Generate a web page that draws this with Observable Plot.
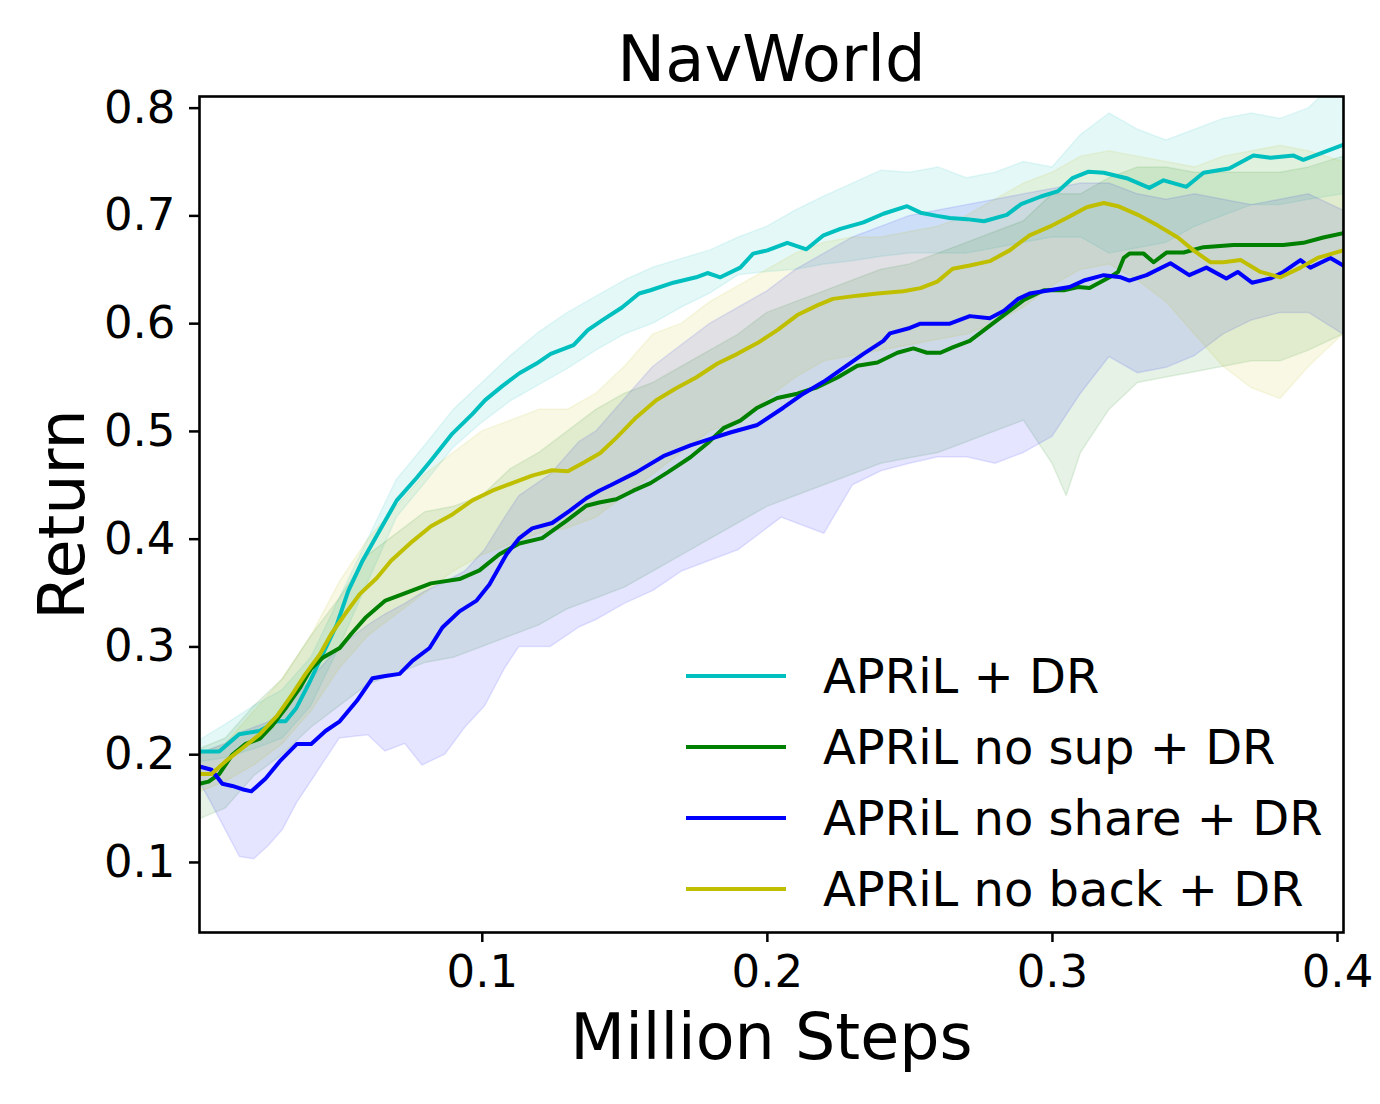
<!DOCTYPE html>
<html><head><meta charset="utf-8">
<script src="https://cdn.jsdelivr.net/npm/d3@7"></script>
<script src="https://cdn.jsdelivr.net/npm/@observablehq/plot@0.6"></script>
<style>
body{margin:0;background:#fff;}
#wrap{position:relative;width:1380px;height:1104px;font-family:"DejaVu Sans",sans-serif;}
#legend{position:absolute;left:686px;top:640px;}
.row{display:flex;align-items:center;height:71px;}
.sw{width:100px;height:4px;margin-right:37px;}
.lab{font-size:48px;line-height:1;color:#000;white-space:nowrap;}
</style></head><body><div id="wrap"></div>
<script>
const title = "NavWorld";
const xLabel = "Million Steps";
const yLabel = "Return";
const seriesNames = ["APRiL + DR", "APRiL no sup + DR", "APRiL no share + DR", "APRiL no back + DR"];
const seriesColors = ["#00bfbf", "#008000", "#0000ff", "#bfbf00"];
const xTicks = [0.1, 0.2, 0.3, 0.4];
const yTicks = [0.1, 0.2, 0.3, 0.4, 0.5, 0.6, 0.7, 0.8];

// mean curves
const cyanX = [0.0008,0.0077,0.0147,0.0218,0.028,0.031,0.0347,0.039,0.044,0.049,0.053,0.058,0.064,0.070,0.077,0.082,0.0895,0.0965,0.101,0.107,0.113,0.119,0.124,0.132,0.137,0.142,0.149,0.155,0.159,0.167,0.175,0.179,0.1835,0.1905,0.195,0.200,0.207,0.2137,0.2197,0.2256,0.2337,0.2407,0.249,0.2537,0.2595,0.264,0.270,0.276,0.284,0.289,0.296,0.302,0.307,0.3127,0.318,0.326,0.334,0.339,0.347,0.353,0.362,0.3705,0.3765,0.3846,0.388,0.395,0.402];
const cyanY = [0.203,0.203,0.219,0.222,0.231,0.231,0.243,0.265,0.293,0.321,0.352,0.380,0.408,0.436,0.457,0.473,0.498,0.516,0.529,0.542,0.554,0.563,0.572,0.580,0.594,0.603,0.615,0.628,0.631,0.638,0.643,0.647,0.643,0.652,0.665,0.668,0.675,0.669,0.682,0.688,0.694,0.702,0.709,0.703,0.700,0.698,0.697,0.695,0.701,0.711,0.718,0.723,0.735,0.741,0.740,0.735,0.726,0.733,0.727,0.740,0.744,0.756,0.754,0.756,0.752,0.759,0.766];

const greenX = [0.0008,0.004,0.0077,0.0123,0.017,0.022,0.026,0.031,0.036,0.040,0.044,0.050,0.054,0.059,0.066,0.073,0.082,0.092,0.099,0.106,0.113,0.121,0.1295,0.1365,0.141,0.147,0.153,0.159,0.165,0.173,0.179,0.1846,0.1905,0.1965,0.2035,0.2105,0.2175,0.2246,0.2316,0.2386,0.2456,0.2512,0.256,0.2607,0.265,0.271,0.276,0.282,0.290,0.297,0.304,0.309,0.313,0.320,0.323,0.325,0.327,0.332,0.3355,0.340,0.346,0.353,0.3635,0.373,0.381,0.388,0.395,0.402];
const greenY = [0.173,0.175,0.182,0.200,0.210,0.215,0.226,0.243,0.262,0.280,0.290,0.299,0.312,0.327,0.343,0.350,0.359,0.363,0.371,0.386,0.396,0.401,0.417,0.431,0.434,0.437,0.445,0.452,0.462,0.476,0.489,0.503,0.510,0.522,0.531,0.535,0.541,0.550,0.561,0.564,0.573,0.577,0.573,0.573,0.578,0.584,0.594,0.606,0.622,0.631,0.631,0.634,0.633,0.643,0.648,0.661,0.665,0.665,0.657,0.666,0.666,0.671,0.673,0.673,0.673,0.675,0.680,0.684];

const blueX = [0.0008,0.005,0.0088,0.0123,0.0158,0.019,0.024,0.029,0.035,0.040,0.045,0.050,0.056,0.0615,0.066,0.071,0.0755,0.0815,0.086,0.092,0.098,0.1025,0.1085,0.113,0.1175,0.1245,0.1305,0.1365,0.141,0.145,0.154,0.1635,0.173,0.180,0.187,0.1965,0.2056,0.2126,0.2197,0.2267,0.2337,0.2407,0.243,0.250,0.2537,0.264,0.271,0.278,0.283,0.288,0.292,0.299,0.306,0.311,0.318,0.324,0.327,0.333,0.3414,0.348,0.354,0.361,0.365,0.370,0.3765,0.381,0.387,0.3905,0.3975,0.402];
const blueY = [0.189,0.186,0.173,0.171,0.168,0.166,0.178,0.194,0.210,0.210,0.222,0.231,0.250,0.271,0.273,0.275,0.287,0.299,0.318,0.333,0.343,0.358,0.386,0.401,0.410,0.415,0.426,0.438,0.445,0.450,0.462,0.477,0.487,0.493,0.499,0.506,0.522,0.535,0.546,0.559,0.572,0.584,0.591,0.596,0.600,0.600,0.607,0.605,0.612,0.623,0.628,0.631,0.634,0.640,0.645,0.643,0.640,0.645,0.656,0.645,0.652,0.642,0.648,0.638,0.642,0.648,0.659,0.652,0.661,0.654];

const yellowX = [0.0008,0.005,0.010,0.0158,0.022,0.028,0.0333,0.038,0.043,0.047,0.052,0.057,0.063,0.068,0.0755,0.082,0.0895,0.0965,0.1035,0.1105,0.1175,0.1245,0.130,0.1355,0.1414,0.147,0.154,0.161,0.168,0.175,0.1825,0.1895,0.1965,0.2035,0.2105,0.2175,0.223,0.2316,0.2386,0.2477,0.2537,0.2596,0.265,0.271,0.278,0.285,0.292,0.299,0.305,0.312,0.318,0.323,0.330,0.337,0.344,0.3495,0.3554,0.360,0.366,0.373,0.380,0.387,0.393,0.402];
const yellowY = [0.182,0.182,0.194,0.206,0.219,0.236,0.256,0.275,0.293,0.312,0.331,0.349,0.364,0.380,0.398,0.412,0.423,0.436,0.445,0.452,0.459,0.464,0.463,0.471,0.480,0.494,0.513,0.529,0.540,0.550,0.563,0.572,0.582,0.594,0.608,0.617,0.623,0.626,0.628,0.630,0.633,0.639,0.651,0.654,0.658,0.668,0.682,0.690,0.698,0.708,0.712,0.709,0.701,0.691,0.680,0.668,0.657,0.657,0.659,0.648,0.643,0.652,0.661,0.668];

// shaded bands (lower, upper)
const cyanBandX = [0.0008,0.01,0.02,0.03,0.04,0.05,0.06,0.07,0.08,0.09,0.10,0.11,0.12,0.13,0.14,0.15,0.16,0.17,0.18,0.19,0.20,0.21,0.22,0.23,0.24,0.25,0.26,0.27,0.28,0.29,0.30,0.31,0.32,0.33,0.34,0.35,0.36,0.37,0.38,0.39,0.402];
const cyanLo = [0.193,0.197,0.205,0.215,0.245,0.300,0.360,0.420,0.452,0.485,0.508,0.528,0.543,0.558,0.575,0.590,0.600,0.615,0.628,0.645,0.648,0.650,0.655,0.658,0.662,0.665,0.665,0.665,0.670,0.675,0.680,0.680,0.665,0.670,0.675,0.690,0.700,0.710,0.710,0.715,0.720];
const cyanHi = [0.213,0.228,0.245,0.260,0.290,0.345,0.400,0.455,0.487,0.520,0.545,0.570,0.592,0.610,0.625,0.640,0.652,0.660,0.668,0.680,0.690,0.705,0.718,0.730,0.742,0.740,0.745,0.735,0.740,0.750,0.745,0.775,0.795,0.780,0.770,0.780,0.790,0.795,0.790,0.800,0.830];

const greenBandX = [0.0008,0.01,0.02,0.03,0.04,0.05,0.06,0.07,0.08,0.09,0.10,0.11,0.12,0.13,0.14,0.15,0.16,0.17,0.18,0.19,0.20,0.21,0.22,0.23,0.24,0.25,0.26,0.27,0.28,0.29,0.30,0.305,0.31,0.32,0.33,0.34,0.35,0.36,0.37,0.38,0.39,0.402];
const greenLo = [0.140,0.150,0.180,0.200,0.225,0.245,0.265,0.275,0.285,0.290,0.300,0.310,0.320,0.335,0.345,0.355,0.370,0.385,0.400,0.415,0.430,0.440,0.450,0.460,0.470,0.475,0.480,0.490,0.500,0.510,0.470,0.440,0.480,0.520,0.545,0.550,0.555,0.560,0.565,0.565,0.575,0.590];
const greenHi = [0.205,0.215,0.245,0.270,0.310,0.345,0.385,0.405,0.425,0.430,0.440,0.465,0.480,0.500,0.520,0.535,0.545,0.560,0.575,0.590,0.610,0.620,0.630,0.640,0.650,0.655,0.665,0.675,0.685,0.695,0.720,0.720,0.720,0.735,0.745,0.745,0.740,0.740,0.740,0.740,0.745,0.755];

const blueBandX = [0.0008,0.005,0.01,0.015,0.02,0.025,0.03,0.035,0.04,0.045,0.05,0.06,0.066,0.073,0.079,0.087,0.094,0.101,0.108,0.113,0.124,0.134,0.14,0.15,0.16,0.17,0.18,0.19,0.20,0.205,0.21,0.22,0.23,0.24,0.25,0.26,0.27,0.28,0.29,0.30,0.31,0.32,0.33,0.34,0.35,0.36,0.37,0.38,0.39,0.402];
const blueLo = [0.175,0.155,0.130,0.105,0.103,0.115,0.130,0.155,0.175,0.195,0.215,0.218,0.203,0.210,0.190,0.200,0.225,0.245,0.280,0.300,0.300,0.318,0.325,0.340,0.352,0.370,0.380,0.390,0.410,0.420,0.415,0.405,0.450,0.463,0.470,0.476,0.476,0.470,0.480,0.495,0.535,0.569,0.554,0.559,0.570,0.590,0.603,0.610,0.610,0.590];
const blueHi = [0.200,0.205,0.210,0.220,0.225,0.230,0.240,0.255,0.270,0.285,0.300,0.320,0.330,0.340,0.350,0.360,0.370,0.390,0.420,0.440,0.460,0.490,0.500,0.530,0.560,0.580,0.600,0.615,0.630,0.640,0.650,0.665,0.680,0.690,0.700,0.705,0.710,0.715,0.720,0.725,0.730,0.730,0.720,0.715,0.720,0.715,0.710,0.715,0.720,0.705];

const yellowBandX = [0.0008,0.01,0.02,0.03,0.04,0.05,0.06,0.07,0.08,0.09,0.10,0.11,0.12,0.13,0.14,0.15,0.16,0.17,0.18,0.19,0.20,0.21,0.22,0.23,0.24,0.25,0.26,0.27,0.28,0.29,0.30,0.31,0.32,0.33,0.34,0.35,0.36,0.37,0.38,0.39,0.402];
const yellowLo = [0.165,0.175,0.190,0.210,0.240,0.280,0.310,0.330,0.350,0.370,0.385,0.395,0.405,0.410,0.420,0.440,0.460,0.480,0.500,0.510,0.530,0.550,0.565,0.570,0.575,0.580,0.585,0.590,0.600,0.615,0.635,0.650,0.655,0.640,0.620,0.590,0.560,0.540,0.530,0.560,0.590];
const yellowHi = [0.200,0.210,0.240,0.270,0.310,0.360,0.400,0.430,0.460,0.480,0.500,0.510,0.520,0.520,0.535,0.560,0.590,0.600,0.620,0.635,0.650,0.665,0.675,0.680,0.680,0.685,0.690,0.700,0.715,0.730,0.740,0.755,0.760,0.755,0.750,0.745,0.755,0.760,0.765,0.760,0.750];

const lineRows = (xs, ys) => xs.map((x, i) => ({x, y: ys[i]}));
const bandRows = (xs, lo, hi) => xs.map((x, i) => ({x, lo: lo[i], hi: hi[i]}));

const lines = [lineRows(cyanX, cyanY), lineRows(greenX, greenY), lineRows(blueX, blueY), lineRows(yellowX, yellowY)];
const bands = [bandRows(cyanBandX, cyanLo, cyanHi), bandRows(greenBandX, greenLo, greenHi), bandRows(blueBandX, blueLo, blueHi), bandRows(yellowBandX, yellowLo, yellowHi)];

const marks = [];
bands.forEach((b, i) => marks.push(Plot.areaY(b, {x: "x", y1: "lo", y2: "hi", fill: seriesColors[i], fillOpacity: 0.1, stroke: seriesColors[i], strokeOpacity: 0.1, strokeWidth: 1.5, clip: true})));
lines.forEach((l, i) => marks.push(Plot.lineY(l, {x: "x", y: "y", stroke: seriesColors[i], strokeWidth: 4, clip: true})));
marks.push(
  Plot.frame({stroke: "black", strokeWidth: 2.6}),
  Plot.axisX({ticks: xTicks, tickFormat: d => d.toFixed(1), tickSize: 10, tickPadding: 13, fontSize: 45, strokeWidth: 2.5, label: null}),
  Plot.axisY({ticks: yTicks, tickFormat: d => d.toFixed(1), tickSize: 10, tickPadding: 14, fontSize: 45, strokeWidth: 2.5, label: null}),
  Plot.text([title], {frameAnchor: "top", dy: -16, lineAnchor: "bottom", textAnchor: "middle", fontSize: 64, fill: "black"}),
  Plot.text([xLabel], {frameAnchor: "bottom", dy: 126, lineAnchor: "bottom", textAnchor: "middle", fontSize: 63.5, fill: "black"}),
  Plot.text([yLabel], {frameAnchor: "left", dx: -116, rotate: -90, lineAnchor: "bottom", textAnchor: "middle", fontSize: 63.5, fill: "black"})
);

const chart = Plot.plot({
  width: 1380, height: 1104,
  marginLeft: 199, marginRight: 37, marginTop: 96, marginBottom: 172,
  style: {fontFamily: "DejaVu Sans", background: "white", color: "black", overflow: "visible"},
  x: {domain: [0.0008, 0.4021]},
  y: {domain: [0.035, 0.8108]},
  marks
});

const wrap = document.getElementById("wrap");
wrap.appendChild(chart);
const legend = document.createElement("div");
legend.id = "legend";
seriesNames.forEach((name, i) => {
  const row = document.createElement("div");
  row.className = "row";
  const sw = document.createElement("div");
  sw.className = "sw";
  sw.style.background = seriesColors[i];
  const lab = document.createElement("div");
  lab.className = "lab";
  lab.textContent = name;
  row.appendChild(sw); row.appendChild(lab);
  legend.appendChild(row);
});
wrap.appendChild(legend);
</script></body></html>
